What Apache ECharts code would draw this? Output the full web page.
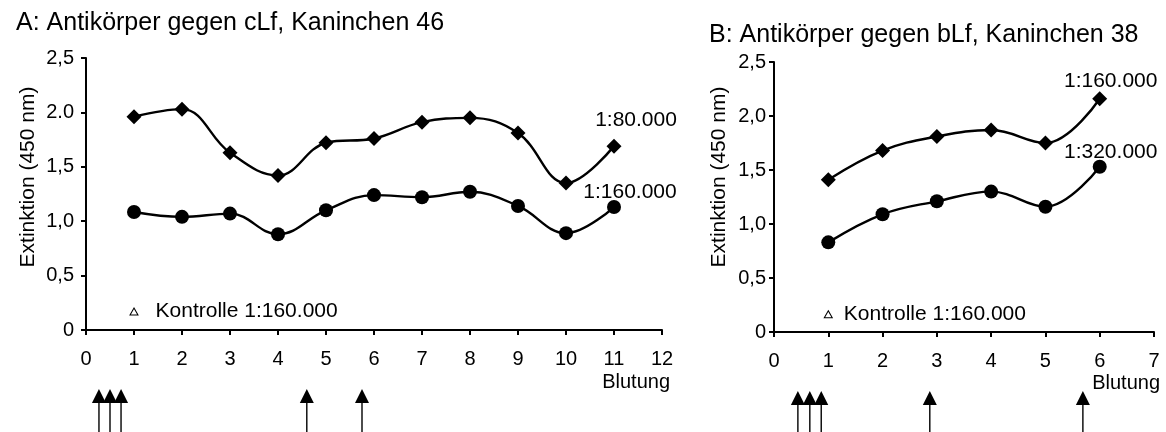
<!DOCTYPE html>
<html><head><meta charset="utf-8">
<script src="https://cdn.jsdelivr.net/npm/echarts@6/dist/echarts.min.js"></script>
<style>html,body{margin:0;padding:0;background:#fff}#c{width:1166px;height:432px}</style>
</head><body><div id="c"></div>
<script>
const FONT = '"Liberation Sans", Arial, sans-serif';
// ---- Panel A ----
const titleA = 'A: Antikörper gegen cLf, Kaninchen 46';
const blutungA = [1, 2, 3, 4, 5, 6, 7, 8, 9, 10, 11];
const titer80kA = [1.96, 2.03, 1.63, 1.42, 1.72, 1.76, 1.91, 1.95, 1.81, 1.35, 1.69];
const titer160kA = [1.085, 1.04, 1.07, 0.88, 1.10, 1.24, 1.22, 1.27, 1.14, 0.89, 1.13];
const seriesNamesA = ['1:80.000', '1:160.000'];
const kontrolleA = [1, 0.17];
const arrowsA = [0.27, 0.5, 0.73, 4.6, 5.75];
const yTickLabelsA = ['0', '0,5', '1,0', '1,5', '2.0', '2,5'];
// ---- Panel B ----
const titleB = 'B: Antikörper gegen bLf, Kaninchen 38';
const blutungB = [1, 2, 3, 4, 5, 6];
const titer160kB = [1.41, 1.68, 1.81, 1.87, 1.75, 2.16];
const titer320kB = [0.83, 1.09, 1.21, 1.30, 1.16, 1.53];
const seriesNamesB = ['1:160.000', '1:320.000'];
const kontrolleB = [1, 0.165];
const arrowsB = [0.44, 0.66, 0.87, 2.87, 5.69];
const yTickLabelsB = ['0', '0,5', '1,0', '1,5', '2,0', '2,5'];
// ---- shared text ----
const kontrolleText = 'Kontrolle 1:160.000';
const yName = 'Extinktion (450 nm)';
const xName = 'Blutung';

const chart = echarts.init(document.getElementById('c'), null, {renderer: 'canvas'});

function pts(xs, ys, lastLabel, off) {
  return xs.map((x, i) => {
    const d = {value: [x, ys[i]]};
    if (i === xs.length - 1) {
      d.label = {show: true, position: 'top', distance: 5, offset: off, formatter: lastLabel,
        color: '#000', fontFamily: FONT, fontSize: 21};
    }
    return d;
  });
}
function lineSeries(idx, data, symbol, size) {
  return {type: 'line', xAxisIndex: idx, yAxisIndex: idx, data: data, smooth: 0.4,
    symbol: symbol, symbolSize: size, showSymbol: true,
    lineStyle: {color: '#000', width: 2.4}, itemStyle: {color: '#000'},
    label: {show: false}, z: 3, animation: false};
}
function arrowItem(params, api) {
  const p = api.coord([api.value(0), 0]);
  const x = p[0], top = p[1] + 59;
  return {type: 'group', children: [
    {type: 'line', shape: {x1: x, y1: top + 8, x2: x, y2: top + 60}, style: {stroke: '#000', lineWidth: 1.4}},
    {type: 'polygon', shape: {points: [[x - 7, top + 14], [x + 7, top + 14], [x, top]]}, style: {fill: '#000'}}
  ]};
}
function yAxis(idx, labels) {
  return {type: 'value', gridIndex: idx, min: 0, max: 2.5, interval: 0.5,
    axisLine: {show: true, lineStyle: {color: '#000', width: 2}},
    axisTick: {show: true, length: 5, lineStyle: {color: '#000', width: 2}},
    axisLabel: {color: '#000', fontFamily: FONT, fontSize: 20, margin: idx === 0 ? 12 : 8,
      formatter: v => labels[Math.round(v / 0.5)]},
    splitLine: {show: false}};
}
function xAxis(idx, max) {
  return {type: 'value', gridIndex: idx, min: 0, max: max, interval: 1,
    axisLine: {show: true, onZero: false, lineStyle: {color: '#000', width: 2}},
    axisTick: {show: true, length: 5, lineStyle: {color: '#000', width: 2}},
    axisLabel: {color: '#000', fontFamily: FONT, fontSize: 20, margin: 19},
    splitLine: {show: false}};
}

const option = {
  backgroundColor: '#fff',
  animation: false,
  title: [
    {text: titleA, left: 11, top: 6, textStyle: {fontFamily: FONT, fontSize: 25, fontWeight: 'normal', color: '#000'}},
    {text: titleB, left: 704, top: 18, textStyle: {fontFamily: FONT, fontSize: 25, fontWeight: 'normal', color: '#000'}}
  ],
  grid: [
    {left: 86, top: 58, width: 576, height: 272},
    {left: 774, top: 62, width: 380, height: 270}
  ],
  xAxis: [xAxis(0, 12), xAxis(1, 7)],
  yAxis: [yAxis(0, yTickLabelsA), yAxis(1, yTickLabelsB)],
  graphic: [
    {type: 'text', x: 28, y: 177, rotation: Math.PI / 2,
      style: {text: yName, fontFamily: FONT, fontSize: 21, fill: '#000', align: 'center', verticalAlign: 'middle'}},
    {type: 'text', x: 719, y: 177, rotation: Math.PI / 2,
      style: {text: yName, fontFamily: FONT, fontSize: 21, fill: '#000', align: 'center', verticalAlign: 'middle'}},
    {type: 'text', x: 670, y: 382,
      style: {text: xName, fontFamily: FONT, fontSize: 20, fill: '#000', align: 'right', verticalAlign: 'middle'}},
    {type: 'text', x: 1160, y: 383,
      style: {text: xName, fontFamily: FONT, fontSize: 20, fill: '#000', align: 'right', verticalAlign: 'middle'}}
  ],
  series: [
    lineSeries(0, pts(blutungA, titer80kA, seriesNamesA[0], [22, -3]), 'diamond', 15),
    lineSeries(0, pts(blutungA, titer160kA, seriesNamesA[1], [16, 8]), 'circle', 14),
    lineSeries(1, pts(blutungB, titer160kB, seriesNamesB[0], [11, 5]), 'diamond', 15),
    lineSeries(1, pts(blutungB, titer320kB, seriesNamesB[1], [11, 8]), 'circle', 14),
    {type: 'scatter', xAxisIndex: 0, yAxisIndex: 0, data: [kontrolleA], symbol: 'triangle', symbolSize: [8, 7],
      itemStyle: {color: '#fff', borderColor: '#000', borderWidth: 1, opacity: 1},
      label: {show: true, position: 'right', distance: 17, formatter: kontrolleText, color: '#000', opacity: 1, fontFamily: FONT, fontSize: 21}},
    {type: 'scatter', xAxisIndex: 1, yAxisIndex: 1, data: [kontrolleB], symbol: 'triangle', symbolSize: [8, 7],
      itemStyle: {color: '#fff', borderColor: '#000', borderWidth: 1, opacity: 1},
      label: {show: true, position: 'right', distance: 11, formatter: kontrolleText, color: '#000', opacity: 1, fontFamily: FONT, fontSize: 21}},
    {type: 'custom', xAxisIndex: 0, yAxisIndex: 0, renderItem: arrowItem, clip: false, silent: true,
      data: arrowsA.map(x => [x, 0])},
    {type: 'custom', xAxisIndex: 1, yAxisIndex: 1, renderItem: arrowItem, clip: false, silent: true,
      data: arrowsB.map(x => [x, 0])}
  ]
};
chart.setOption(option);
</script>
</body></html>
